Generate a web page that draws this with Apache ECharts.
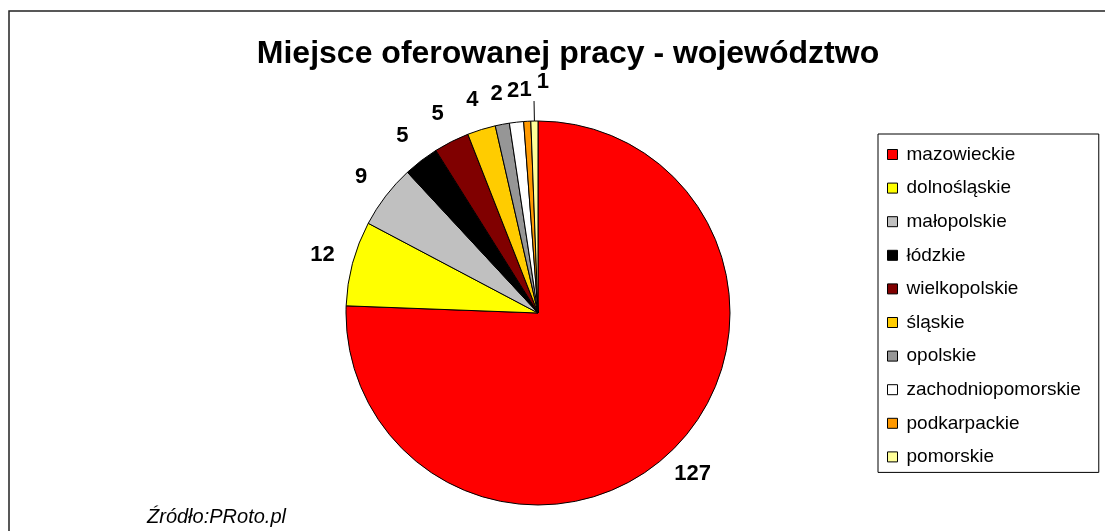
<!DOCTYPE html>
<html>
<head>
<meta charset="utf-8">
<script src="https://cdn.jsdelivr.net/npm/echarts@6/dist/echarts.min.js"></script>
<style>
html,body{margin:0;padding:0;background:#fff;}
#chart{width:1105px;height:531px;}
</style>
</head>
<body>
<div id="chart"></div>
<script>
var categories = ['mazowieckie','dolnośląskie','małopolskie','łódzkie','wielkopolskie','śląskie','opolskie','zachodniopomorskie','podkarpackie','pomorskie'];
var values = [127, 12, 9, 5, 5, 4, 2, 2, 1, 1];
var colors = ['#FF0000','#FFFF00','#C0C0C0','#000000','#800000','#FFCC00','#969696','#FFFFFF','#FF9900','#FFFF99'];
var titleText = 'Miejsce oferowanej pracy - województwo';
var sourceText = 'Źródło:PRoto.pl';

var FONT = '"Liberation Sans", Arial, sans-serif';
var lastIdx = values.length - 1;

var mainData = categories.map(function (c, i) {
  var d = { name: c, value: values[i], itemStyle: { color: colors[i] } };
  if (i === lastIdx) {
    d.label = { show: true, position: 'outside', formatter: '{c}', fontSize: 22, fontWeight: 'bold', color: '#000', fontFamily: FONT, distanceToLabelLine: 0 };
    d.labelLine = { show: true, length: 20, length2: 0, smooth: false, lineStyle: { color: '#000', width: 1 } };
  }
  return d;
});
var labelData = categories.map(function (c, i) {
  var d = { name: c, value: values[i] };
  if (i === lastIdx) d.label = { show: false };
  return d;
});

var chart = echarts.init(document.getElementById('chart'), null, { renderer: 'canvas' });
chart.setOption({
  backgroundColor: '#fff',
  animation: false,
  color: colors,
  title: {
    text: titleText,
    left: 563, top: 33, textAlign: 'center',
    textStyle: { fontFamily: FONT, fontSize: 32, fontWeight: 'bold', color: '#000' }
  },
  legend: {
    orient: 'vertical',
    left: 878, top: 134,
    data: categories,
    icon: 'rect',
    itemWidth: 10, itemHeight: 10,
    itemGap: 14.6,
    padding: [11, 18, 6, 9],
    borderColor: '#000', borderWidth: 1,
    itemStyle: { borderColor: '#000', borderWidth: 1 },
    selectedMode: false,
    textStyle: { fontFamily: FONT, fontSize: 19, color: '#000', lineHeight: 18, padding: [0, 0, 0, 4] }
  },
  graphic: [
    { type: 'rect', shape: { x: 9, y: 11, width: 1200, height: 700 }, style: { fill: 'none', stroke: '#222', lineWidth: 1.5 }, silent: true, z: -1 },
    { type: 'text', left: 147, top: 507, style: { text: sourceText, font: 'italic 20px ' + FONT, fill: '#000' } }
  ],
  series: [
    {
      type: 'pie',
      center: [538, 313],
      radius: 192,
      startAngle: 90,
      clockwise: true,
      avoidLabelOverlap: false,
      silent: true,
      data: mainData,
      itemStyle: { borderColor: '#000', borderWidth: 1 },
      label: { show: false },
      labelLine: { show: false },
      labelLayout: function (p) {
        if (p.dataIndex === lastIdx) return { dx: 15, dy: -19 };
      },
      emphasis: { disabled: true }
    },
    {
      type: 'pie',
      center: [538, 313],
      radius: [204, 236],
      startAngle: 90,
      clockwise: true,
      avoidLabelOverlap: false,
      silent: true,
      data: labelData,
      itemStyle: { color: 'rgba(0,0,0,0)', borderWidth: 0 },
      label: { show: true, position: 'inside', formatter: '{c}', fontSize: 22, fontWeight: 'bold', color: '#000', fontFamily: FONT },
      labelLine: { show: false },
      emphasis: { disabled: true }
    }
  ]
});
</script>
</body>
</html>
